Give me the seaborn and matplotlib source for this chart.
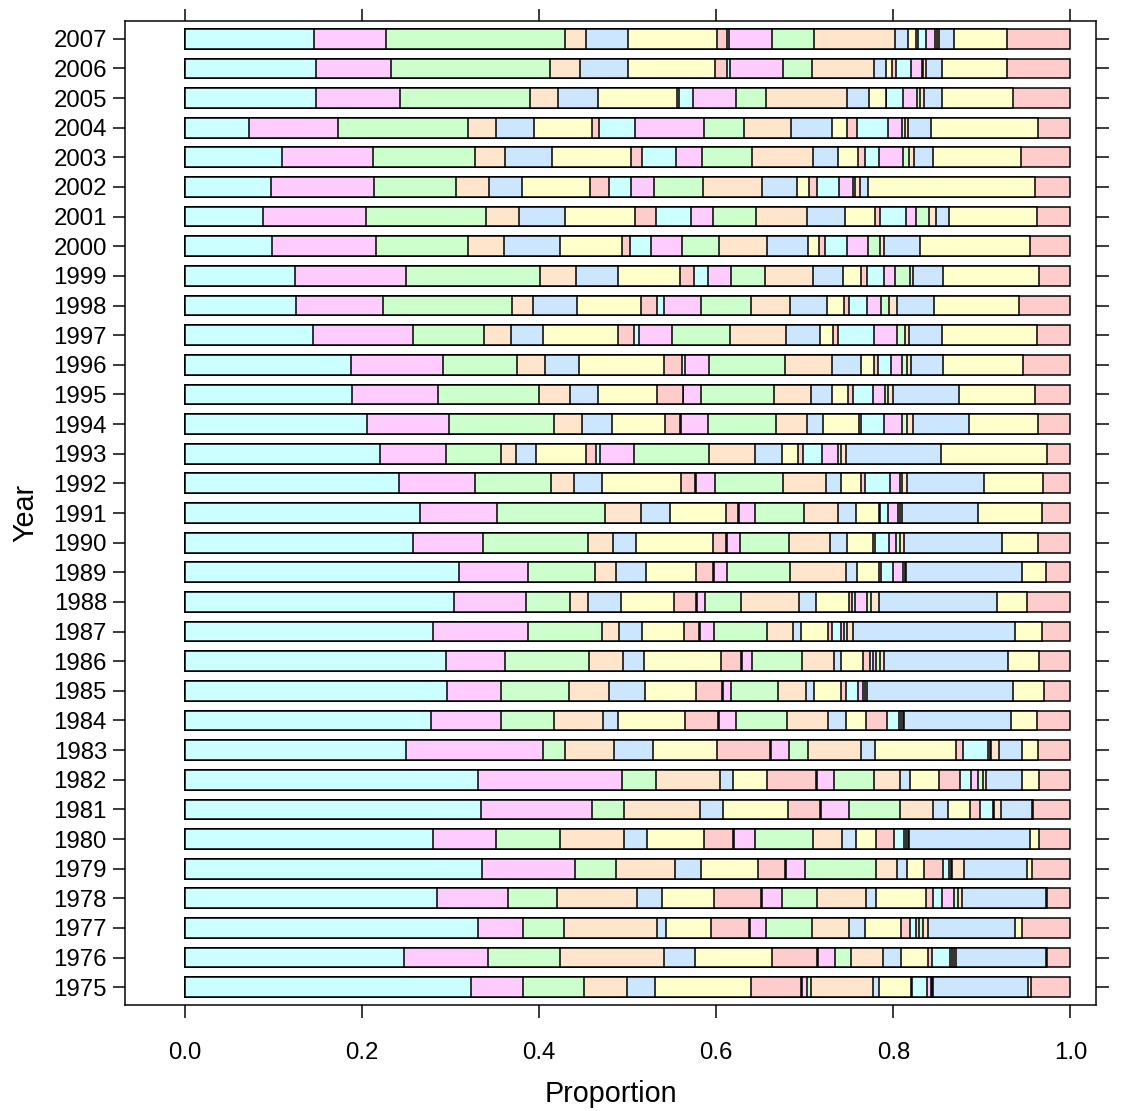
import numpy as np
import pandas as pd
import seaborn as sns
import matplotlib.pyplot as plt

# years from top row to bottom row
years = list(range(2007, 1974, -1))

# share (percent) of each of the 21 stacked segments, left to right
share_2007 = [14.6, 8.1, 20.3, 2.3, 4.8, 10.0, 1.2, 0.2, 4.9, 4.7, 9.2, 1.4, 1.0, 0.2, 0.9, 1.0, 0.2, 0.3, 1.6, 6.0, 7.2]
share_2006 = [14.8, 8.5, 17.9, 3.4, 5.4, 9.8, 1.4, 0.4, 5.9, 3.3, 7.0, 1.4, 0.7, 0.4, 1.7, 1.2, 0.2, 0.3, 1.8, 7.3, 7.2]
share_2005 = [14.8, 9.5, 14.7, 3.2, 4.5, 8.9, 0.2, 1.6, 4.9, 3.4, 9.2, 2.4, 1.9, 0.1, 1.9, 1.6, 0.3, 0.4, 2.1, 8.0, 6.5]
share_2004 = [7.2, 10.1, 14.7, 3.1, 4.4, 6.5, 0.8, 4.1, 7.8, 4.5, 5.3, 4.7, 1.6, 1.2, 3.5, 1.6, 0.3, 0.3, 2.6, 12.2, 3.6]
share_2003 = [10.9, 10.2, 11.5, 3.4, 5.3, 8.9, 1.3, 3.8, 2.9, 5.6, 6.9, 2.8, 2.3, 0.8, 1.6, 2.6, 0.7, 0.6, 2.1, 9.9, 5.6]
share_2002 = [9.7, 11.6, 9.3, 3.8, 3.7, 7.7, 2.1, 2.5, 2.6, 5.6, 6.6, 4.0, 1.3, 1.0, 2.4, 1.6, 0.3, 0.5, 0.9, 18.9, 4.0]
share_2001 = [8.8, 11.6, 13.6, 3.8, 5.2, 7.9, 2.3, 4.0, 2.5, 4.9, 5.7, 4.3, 3.4, 0.6, 2.9, 1.2, 1.4, 0.8, 1.5, 9.9, 3.8]
share_2000 = [9.8, 11.8, 10.4, 4.1, 6.3, 7.1, 0.9, 2.3, 3.5, 4.2, 5.5, 4.6, 1.3, 0.6, 2.5, 2.4, 1.4, 0.4, 4.1, 12.4, 4.6]
share_1999 = [12.4, 12.5, 15.1, 4.1, 4.8, 6.9, 1.6, 1.6, 2.6, 3.8, 5.5, 3.3, 2.1, 0.6, 2.0, 1.2, 1.7, 0.3, 3.4, 10.9, 3.5]
share_1998 = [12.5, 9.8, 14.6, 2.4, 4.9, 7.3, 1.8, 0.7, 4.2, 5.7, 4.4, 4.1, 1.9, 0.6, 2.0, 1.6, 0.9, 0.9, 4.2, 9.6, 5.8]
share_1997 = [14.4, 11.3, 8.0, 3.0, 3.6, 8.5, 1.8, 0.6, 3.7, 6.5, 6.3, 3.9, 1.4, 0.6, 4.1, 2.6, 0.9, 0.4, 3.7, 10.7, 3.8]
share_1996 = [18.7, 10.5, 8.3, 3.2, 3.8, 9.6, 2.1, 0.3, 2.7, 8.6, 5.3, 3.3, 1.5, 0.4, 1.5, 1.3, 0.5, 0.5, 3.6, 9.1, 5.3]
share_1995 = [18.9, 9.7, 11.4, 3.6, 3.1, 6.7, 2.9, 0.1, 2.0, 8.3, 4.1, 2.4, 1.8, 0.6, 2.3, 1.3, 0.4, 0.5, 7.5, 8.6, 4.0]
share_1994 = [20.5, 9.3, 11.9, 3.1, 3.4, 6.0, 1.7, 0.1, 3.1, 7.7, 3.5, 1.8, 4.0, 0.2, 2.6, 2.1, 0.6, 0.6, 6.4, 7.8, 3.6]
share_1993 = [22.0, 7.5, 6.2, 1.7, 2.2, 5.7, 1.1, 0.5, 3.8, 8.5, 5.2, 3.0, 1.8, 0.6, 2.1, 1.8, 0.4, 0.6, 10.7, 12.0, 2.6]
share_1992 = [24.2, 8.5, 8.6, 2.6, 3.2, 8.9, 1.6, 0.1, 2.2, 7.6, 4.9, 1.7, 2.3, 0.4, 2.8, 1.2, 0.2, 0.5, 8.8, 6.6, 3.1]
share_1991 = [26.6, 8.7, 12.2, 4.1, 3.3, 6.3, 1.4, 0.1, 1.8, 5.5, 3.9, 2.0, 2.6, 0.2, 0.9, 1.1, 0.2, 0.3, 8.5, 7.3, 3.2]
share_1990 = [25.8, 7.9, 11.9, 2.8, 2.6, 8.7, 1.5, 0.1, 1.4, 5.6, 4.6, 1.9, 3.0, 0.2, 1.6, 0.8, 0.4, 0.5, 11.1, 4.1, 3.6]
share_1989 = [30.9, 7.8, 7.6, 2.3, 3.4, 5.7, 1.9, 0.1, 1.5, 7.1, 6.3, 1.2, 2.5, 0.2, 1.4, 1.1, 0.2, 0.2, 13.0, 2.7, 2.8]
share_1988 = [30.5, 8.2, 4.9, 2.1, 3.7, 6.0, 2.5, 0.1, 1.0, 4.1, 6.5, 1.9, 3.8, 0.3, 0.4, 1.3, 0.5, 0.9, 13.4, 3.4, 4.9]
share_1987 = [28.1, 10.7, 8.4, 2.0, 2.6, 4.7, 1.7, 0.1, 1.6, 6.0, 3.0, 0.9, 3.0, 0.5, 1.0, 0.3, 0.4, 0.7, 18.3, 3.1, 3.2]
share_1986 = [29.5, 6.7, 9.5, 3.8, 2.4, 8.7, 2.3, 0.1, 1.1, 5.7, 3.6, 0.8, 2.5, 0.8, 0.3, 0.3, 0.5, 0.4, 14.0, 3.6, 3.5]
share_1985 = [29.6, 6.1, 7.7, 4.5, 4.0, 5.8, 3.0, 0.1, 0.9, 5.3, 3.1, 0.9, 3.1, 0.6, 1.3, 0.6, 0.2, 0.2, 16.5, 3.5, 3.0]
share_1984 = [27.8, 7.9, 6.0, 5.5, 1.7, 7.6, 3.7, 0.1, 1.9, 5.8, 4.6, 2.1, 2.2, 2.4, 1.4, 0.2, 0.2, 0.1, 12.1, 2.9, 3.8]
share_1983 = [24.9, 15.4, 2.5, 5.5, 4.4, 7.3, 5.9, 0.1, 2.1, 2.1, 6.0, 1.6, 9.1, 0.8, 2.8, 0.2, 0.2, 0.9, 2.5, 1.9, 3.6]
share_1982 = [33.1, 16.2, 3.8, 7.3, 1.4, 3.9, 5.5, 0.1, 1.9, 4.5, 3.0, 1.1, 3.3, 2.4, 1.2, 0.8, 0.5, 0.4, 4.0, 2.0, 3.5]
share_1981 = [33.5, 12.5, 3.7, 8.6, 2.6, 7.3, 3.7, 0.1, 3.2, 5.7, 3.8, 1.6, 2.5, 1.2, 1.4, 0.1, 0.1, 0.7, 3.6, 0.1, 4.2]
share_1980 = [28.1, 7.1, 7.3, 7.2, 2.6, 6.5, 3.3, 0.1, 2.4, 6.5, 3.3, 1.6, 2.3, 2.0, 1.2, 0.2, 0.2, 0.1, 13.7, 1.1, 3.5]
share_1979 = [33.5, 10.5, 4.6, 6.7, 2.9, 6.4, 3.1, 0.1, 2.2, 8.0, 2.3, 1.2, 1.9, 2.1, 0.7, 0.2, 0.1, 1.4, 7.1, 0.6, 4.3]
share_1978 = [28.4, 8.1, 5.5, 9.0, 2.9, 5.8, 5.4, 0.1, 2.2, 4.0, 5.5, 1.2, 5.6, 0.8, 1.0, 1.4, 0.4, 0.5, 9.5, 0.1, 2.6]
share_1977 = [33.1, 5.1, 4.7, 10.5, 1.0, 5.1, 4.3, 0.1, 1.9, 5.1, 4.2, 1.9, 4.0, 1.1, 0.6, 0.4, 0.4, 0.6, 9.8, 0.8, 5.5]
share_1976 = [24.8, 9.5, 8.1, 11.8, 3.5, 8.7, 5.1, 0.1, 1.9, 1.8, 3.6, 2.1, 3.0, 0.4, 2.1, 0.2, 0.3, 0.2, 10.2, 0.1, 2.6]
share_1975 = [32.3, 5.9, 6.9, 4.9, 3.2, 10.9, 5.6, 0.1, 0.6, 0.4, 7.1, 0.6, 3.7, 0.1, 1.7, 0.4, 0.1, 0.1, 10.8, 0.4, 4.4]

shares = [share_2007, share_2006, share_2005, share_2004, share_2003, share_2002, share_2001,
          share_2000, share_1999, share_1998, share_1997, share_1996, share_1995, share_1994,
          share_1993, share_1992, share_1991, share_1990, share_1989, share_1988, share_1987,
          share_1986, share_1985, share_1984, share_1983, share_1982, share_1981, share_1980,
          share_1979, share_1978, share_1977, share_1976, share_1975]

# lattice superpose.polygon colours
palette = ["#CCFFFF", "#FFCCFF", "#CCFFCC", "#FFE5CC", "#CCE6FF", "#FFFFCC", "#FFCCCC"]
xticks = [0.0, 0.2, 0.4, 0.6, 0.8, 1.0]


def build_frame():
    rows = []
    for year, vals in zip(years, shares):
        v = np.array(vals, dtype=float)
        cum = np.cumsum(v / v.sum())
        for k, c in enumerate(cum):
            rows.append({"Year": str(year), "segment": k, "cum": c})
    return pd.DataFrame(rows)


def main():
    sns.set_theme(style="ticks")
    plt.rcParams['font.family'] = ['Liberation Sans', 'DejaVu Sans']

    df = build_frame()
    order = [str(y) for y in years]
    n_seg = len(shares[0])

    fig = plt.figure(figsize=(11.23, 11.11), dpi=100)
    ax = fig.add_axes([125 / 1123, 1 - 1005 / 1111, (1096 - 125) / 1123, (1005 - 21) / 1111])

    # draw cumulative bars from the last segment back to the first so that they stack
    for k in range(n_seg - 1, -1, -1):
        sub = df[df["segment"] == k]
        sns.barplot(data=sub, x="cum", y="Year", order=order, color=palette[k % 7],
                    saturation=1, width=2 / 3, edgecolor="black", linewidth=1.1,
                    errorbar=None, ax=ax)

    ax.set_xlim(-0.068, 1.029)
    ax.set_ylim(len(years) - 0.4, -0.6)
    ax.set_xticks(xticks)
    ax.set_xticklabels([f"{t:.1f}" for t in xticks])
    ax.tick_params(axis="x", top=True, bottom=True, direction="out", length=9,
                   width=1.08, labelsize=17.3, pad=17.5, colors="black")
    ax.tick_params(axis="y", left=True, right=True, direction="out", length=9,
                   width=1.08, labelsize=17.3, pad=4, colors="black")
    for sp in ax.spines.values():
        sp.set_linewidth(1.08)
        sp.set_color("black")

    ax.set_xlabel("Proportion", fontsize=20.7, color="black")
    ax.set_ylabel("Year", fontsize=20.7, color="black")
    ax.xaxis.label.set_va("center")
    ax.yaxis.label.set_va("center")
    ax.xaxis.set_label_coords(0.5, (1005 - 1094) / 984)
    ax.yaxis.set_label_coords((25 - 125) / 971, 0.5)

    fig.savefig("out.png", dpi=100, facecolor="white")


if __name__ == "__main__":
    main()
